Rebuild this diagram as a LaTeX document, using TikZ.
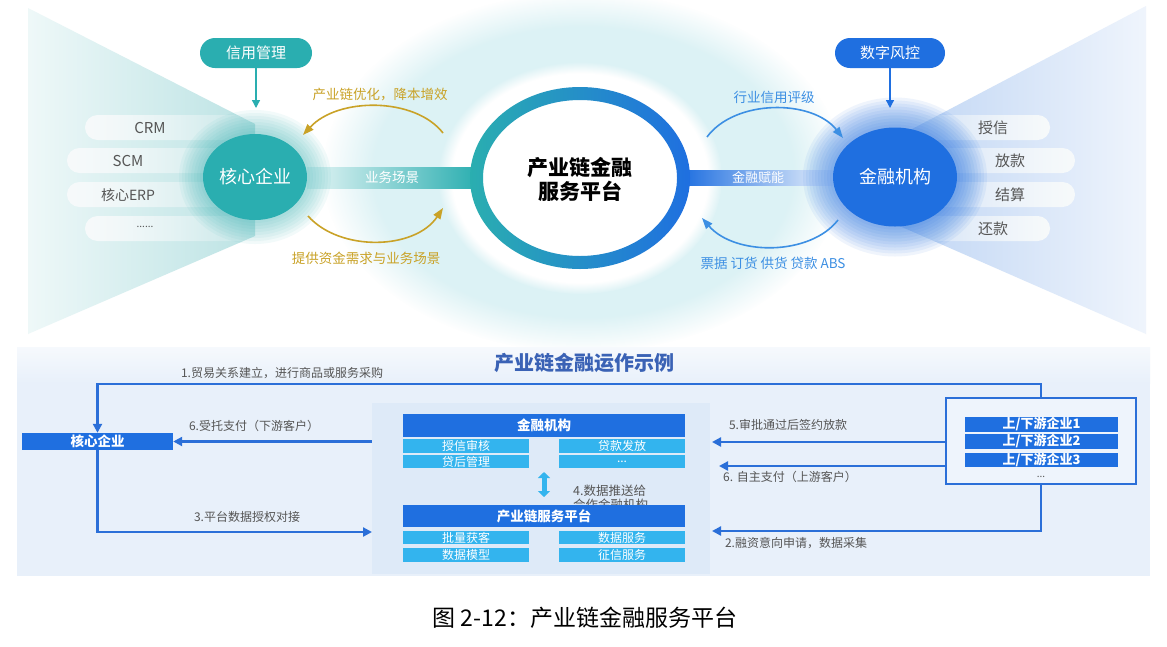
\documentclass[tikz,border=0pt]{standalone}
\usepackage{fontspec}
\setmainfont{Noto Sans CJK SC}
\usetikzlibrary{shapes.geometric,arrows.meta,fadings,calc}
\definecolor{teal1}{HTML}{2AAEB0}
\definecolor{blue1}{HTML}{1F6FE0}
\definecolor{gold1}{HTML}{C9A227}
\definecolor{arcblue}{HTML}{3C8FE3}
\definecolor{tealwedge}{HTML}{BCE3E4}
\definecolor{bluewedge}{HTML}{BFD5F4}
\definecolor{glowc}{HTML}{DCF2F5}
\definecolor{botbg}{HTML}{E8F0FA}
\definecolor{panelc}{HTML}{DEEAF8}
\definecolor{subc}{HTML}{33B4EE}
\definecolor{darkblue}{HTML}{2B6FD8}
\definecolor{titleblue}{HTML}{3A62B5}
\definecolor{txtgray}{HTML}{555555}
\definecolor{pillc}{HTML}{F7FAFB}
\definecolor{udfill}{HTML}{EEF4FC}
\newcommand\fsz[2]{\fontsize{#1}{#2}\selectfont}
\tikzfading[name=pillfR, left color=transparent!0, middle color=transparent!0, right color=transparent!100]
\tikzfading[name=pillfL, left color=transparent!100, middle color=transparent!0, right color=transparent!0]
\begin{document}
\begin{tikzpicture}[x=1pt,y=-1pt,
  lbl/.style={font=\fsz{12}{14}, text=txtgray, inner sep=0pt},
  goldlbl/.style={font=\fsz{13.5}{16}, text=gold1, inner sep=0pt},
  bluelbl/.style={font=\fsz{13.5}{16}, text=arcblue, inner sep=0pt},
  pilltxt/.style={font=\fsz{15}{18}, text=txtgray, inner sep=0pt},
  flow/.style={draw=darkblue, line width=2.5pt, -{Triangle[length=9pt,width=9pt]}},
  goldarc/.style={draw=gold1, line width=1.6pt, -{Triangle[length=11pt,width=8pt]}},
  bluearc/.style={draw=arcblue, line width=1.6pt, -{Triangle[length=11pt,width=8pt]}},
  downarr/.style={line width=1.3pt, -{Triangle[length=8pt,width=8pt]}},
  hdrbox/.style={fill=blue1, text=white, font=\bfseries\fsz{13.5}{16}, inner sep=0pt, minimum width=282pt, minimum height=22.5pt},
  subbox/.style={fill=subc, text=white, font=\fsz{12}{13}, inner sep=0pt, minimum width=126pt, minimum height=13.5pt},
  udbar/.style={fill=blue1, text=white, font=\bfseries\fsz{13}{14}, inner sep=0pt, minimum width=153pt, minimum height=14.5pt},
  toppill/.style={rounded corners=15pt, text=white, font=\fsz{15}{18}, minimum height=30pt, inner sep=0pt},
  bigcirc/.style={ellipse, text=white, font=\fsz{18}{20}, inner sep=0pt},
]
\useasboundingbox (0,0) rectangle (1167,646);
\fill[white] (0,0) rectangle (1167,646);

% ---------- upper part ----------
% wedges
\shade[left color=tealwedge!25!white, right color=tealwedge] (28,8) -- (255,124) -- (255,236) -- (28,334) -- cycle;
\shade[left color=bluewedge, right color=bluewedge!25!white] (895,138) -- (1146,6) -- (1146,334) -- (895,224) -- cycle;
% central glow
\fill[glowc, path fading=circle with fuzzy edge 20 percent] (583,172) ellipse [x radius=260, y radius=180];

% left pills
\fill[pillc, path fading=pillfR, rounded corners=12.5pt] (85,115) rectangle (275,140);
\fill[pillc, path fading=pillfR, rounded corners=12.5pt] (67,148) rectangle (275,173);
\fill[pillc, path fading=pillfR, rounded corners=12.5pt] (67,182) rectangle (275,207);
\fill[pillc, path fading=pillfR, rounded corners=12.5pt] (85,216) rectangle (275,241);
% right pills
\fill[pillc, path fading=pillfL, rounded corners=12.5pt] (870,115) rectangle (1050,140);
\fill[pillc, path fading=pillfL, rounded corners=12.5pt] (870,148) rectangle (1075,173);
\fill[pillc, path fading=pillfL, rounded corners=12.5pt] (870,182) rectangle (1075,207);
\fill[pillc, path fading=pillfL, rounded corners=12.5pt] (870,216) rectangle (1050,241);

\node[pilltxt] (crm) at (150,127.5) {CRM};
\node[pilltxt] (scm) at (128,160.5) {SCM};
\node[pilltxt, font=\fsz{14}{16}] (erp) at (128,195) {核心ERP};
\node[pilltxt, font=\fsz{10}{12}] (ldots) at (145,227) {......};
\node[pilltxt] (sx) at (993,127.5) {授信};
\node[pilltxt] (fk) at (1010,160.5) {放款};
\node[pilltxt] (js) at (1010,195) {结算};
\node[pilltxt] (hk) at (993,228.5) {还款};

% white disc and ring
\fill[white, path fading=circle with fuzzy edge 10 percent] (580,178) ellipse [x radius=142, y radius=116];
\node[ellipse, minimum width=220pt, minimum height=182pt, inner sep=0pt] (plat) at (580,178) {};
\node[bigcirc, minimum width=124pt, minimum height=99pt] (fin) at (895,177) {};
\node[bigcirc, minimum width=104pt, minimum height=86pt] (core) at (255,177) {};

% connector bars
\shade[left color=teal1!12!white, right color=teal1] ($(core.east)+(0,-10)$) rectangle ($(plat.west)+(8,10)$);
\shade[left color=blue1, right color=blue1!8!white] ($(plat.east)+(-8,-8)$) rectangle ($(fin.west)+(0,8)$);
\node[font=\fsz{13.5}{16}, text=white, inner sep=0pt] (ywcj) at (392,177) {业务场景};
\node[font=\fsz{13}{16}, text=white, inner sep=0pt] (jrfn) at (758,177) {金融赋能};

% ring
\shade[left color=teal1, right color=blue1, even odd rule]
  (580,178) ellipse [x radius=110, y radius=91] (580,178) ellipse [x radius=97, y radius=78];
\node[font=\bfseries\fsz{21}{24}, align=center, inner sep=0pt] (plattxt) at (580,179) {产业链金融\\服务平台};

% circle glows and circles
\foreach \k in {1,...,8}
  \fill[teal1, opacity=0.06] (core.center) ellipse [x radius=52+3*\k, y radius=43+3*\k];
\foreach \k in {1,...,10}
  \fill[blue1, opacity=0.07] (fin.center) ellipse [x radius=62+3*\k, y radius=49.5+3*\k];
\node[bigcirc, fill=teal1, minimum width=104pt, minimum height=86pt] at (core) {核心企业};
\node[bigcirc, fill=blue1, minimum width=124pt, minimum height=99pt] at (fin) {金融机构};

% top pills
\node[toppill, fill=teal1, minimum width=112pt] (xygl) at (256,53) {信用管理};
\node[toppill, fill=blue1, minimum width=110pt] (szfk) at (890,53) {数字风控};
\coordinate (xyend) at (256,108);
\coordinate (szend) at (890,108);
\draw[downarr, draw=teal1] (xygl.south) -- (xyend);
\draw[downarr, draw=blue1] (szfk.south) -- (szend);

% arcs
\coordinate (ga1) at (443,133);
\coordinate (ga2) at (303,135);
\coordinate (gb1) at (308,216);
\coordinate (gb2) at (443,208);
\coordinate (ba1) at (707,137);
\coordinate (ba2) at (843,138);
\coordinate (bb1) at (838,220);
\coordinate (bb2) at (702,218);
\draw[goldarc] (ga1) .. controls (415,97) and (338,97) .. (ga2);
\draw[goldarc] (gb1) .. controls (340,252) and (415,250) .. (gb2);
\draw[bluearc] (ba1) .. controls (735,99) and (812,99) .. (ba2);
\draw[bluearc] (bb1) .. controls (810,256) and (735,256) .. (bb2);
\node[goldlbl] (g1) at (380,95) {产业链优化，降本增效};
\node[goldlbl] (g2) at (366,258) {提供资金需求与业务场景};
\node[bluelbl] (b1) at (774,97) {行业信用评级};
\node[bluelbl] (b2) at (773,263) {票据 订货 供货 贷款 ABS};

% ---------- lower part ----------
\fill[botbg] (17,347) rectangle (1150,576);
\shade[top color=botbg!40!white, bottom color=botbg] (17,347) rectangle (1150,383);
\node[font=\bfseries\fsz{20}{22}, text=titleblue, inner sep=0pt] (title) at (584,363) {产业链金融运作示例};

\node[fill=panelc, minimum width=338pt, minimum height=171pt, inner sep=0pt] (panel) at (541,488.5) {};

\node[fill=blue1, text=white, font=\bfseries\fsz{13.5}{16}, inner sep=0pt, minimum width=151pt, minimum height=17pt] (core2) at (97.5,441.5) {核心企业};

\node[hdrbox] (finh) at (544,425.5) {金融机构};
\node[subbox] (s1) at (466,446) {授信审核};
\node[subbox] (s2) at (466,461.5) {贷后管理};
\node[subbox] (s3) at (622,446) {贷款发放};
\node[subbox] (s4) at (622,461.5) {...};

\node[lbl, font=\fsz{12.5}{14}, align=left, anchor=north west] (l4) at (573,485) {4.数据推送给\\合作金融机构};
\coordinate (da1) at (544,472);
\coordinate (da2) at (544,497);
\draw[draw=subc, line width=5pt, {Triangle[length=6pt,width=12pt]}-{Triangle[length=6pt,width=12pt]}] (da1) -- (da2);

\node[hdrbox] (plath) at (544,516) {产业链服务平台};
\node[subbox] (t1) at (466,537.5) {批量获客};
\node[subbox] (t2) at (466,555) {数据模型};
\node[subbox] (t3) at (622,537.5) {数据服务};
\node[subbox] (t4) at (622,555) {征信服务};

\node[draw=darkblue, line width=2.5pt, fill=udfill, minimum width=190pt, minimum height=86pt, inner sep=0pt] (ud) at (1041,441) {};
\node[udbar] (u1) at (1041.5,424.5) {上/下游企业1};
\node[udbar] (u2) at (1041.5,441.5) {上/下游企业2};
\node[udbar] (u3) at (1041.5,460) {上/下游企业3};
\node[font=\fsz{10}{12}, text=txtgray, inner sep=0pt] (udots) at (1041,477) {...};

% flows
\coordinate (c1) at (97.5,384);
\draw[flow] (ud.north) |- (c1) -- (core2.north);
\node[lbl] (l1) at (282,373) {1.贸易关系建立，进行商品或服务采购};

\draw[flow] (panel.west |- core2.east) -- (core2.east);
\node[lbl] (l6a) at (254,426) {6.受托支付（下游客户）};

\coordinate (p3) at (372,532);
\draw[flow] (core2.south) |- (p3);
\node[lbl] (l3) at (247,517) {3.平台数据授权对接};

\coordinate (p5) at (712,442);
\draw[flow] (ud.west |- p5) -- (p5);
\node[lbl] (l5) at (788,425) {5.审批通过后签约放款};

\coordinate (u6) at (945,466);
\coordinate (p6) at (719,466);
\draw[flow] (u6) -- (p6);
\node[lbl] (l6b) at (790,477) {6. 自主支付（上游客户）};

\coordinate (p2) at (712,531);
\draw[flow] (ud.south) |- (p2);
\node[lbl] (l2) at (796,543) {2.融资意向申请，数据采集};

% caption
\node[font=\fsz{23}{26}, inner sep=0pt] (cap) at (585,618) {图 2-12：产业链金融服务平台};
\end{tikzpicture}
\end{document}
